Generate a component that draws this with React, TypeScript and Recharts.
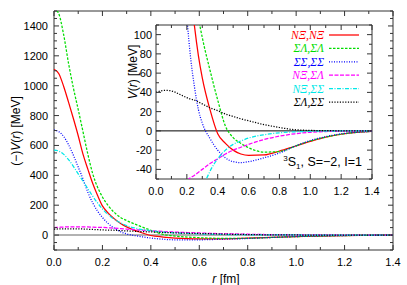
import React from 'react';
import { LineChart, Line, XAxis, YAxis, ReferenceLine, ReferenceArea } from 'recharts';

// r grid [fm]
const R = [0, 0.02, 0.04, 0.06, 0.08, 0.1, 0.12, 0.14, 0.16, 0.18, 0.2, 0.225, 0.25, 0.275, 0.3, 0.35, 0.4, 0.45, 0.5, 0.55, 0.6, 0.7, 0.8, 0.9, 1.0, 1.1, 1.2, 1.3, 1.4];

// potentials [MeV] as plotted in the main panel ((-)V for the off-diagonal NΞ,ΣΛ and NΞ,ΣΣ)
const nxNx = [1110, 1080, 995, 890, 780, 665, 540, 440, 345, 265, 195, 145, 108, 78, 55, 22, -3, -13, -20, -24, -25.5, -25, -21, -16, -11, -6.5, -3.5, -1.5, -0.5];
const slSl = [1520, 1480, 1340, 1150, 985, 840, 690, 540, 410, 320, 255, 195, 150, 118, 97, 63, 32, 5, -7, -13, -17.5, -22, -21.5, -16, -10.5, -6.5, -3.5, -1.5, -0.5];
const ssSs = [703, 692, 660, 605, 535, 455, 375, 285, 215, 160, 118, 75, 45, 22, 8, -8, -20, -28, -32, -33, -32, -28, -23, -16, -10, -6, -3, -1.5, -0.5];
const nxSl = [50, 52, 54, 55, 55.5, 55.5, 55, 54, 53, 52, 51, 48.5, 46, 43, 40, 34, 29, 24, 20, 17, 14, 9, 5.5, 3, 1.5, 0.7, 0.3, 0.1, 0];
const nxSs = [569, 562, 540, 505, 460, 410, 360, 310, 260, 215, 175, 135, 105, 82, 63, 42, 29, 20, 14, 10.5, 7.5, 4, 2, 1, 0.5, 0.2, 0.1, 0, 0];
const slSs = [40, 41, 41.8, 42, 42, 41.5, 40.5, 39, 37.5, 36, 34.5, 33, 32, 30, 28, 24, 21, 17.5, 15, 12.5, 10.5, 6.5, 3.5, 1.2, 0.5, 0.2, 0.1, 0, 0];

const mainXTicks = [0, 0.1, 0.2, 0.3, 0.4, 0.5, 0.6, 0.7, 0.8, 0.9, 1.0, 1.1, 1.2, 1.3, 1.4];
const mainYTicks = [-100, -50, 0, 50, 100, 150, 200, 250, 300, 350, 400, 450, 500, 550, 600, 650, 700, 750, 800, 850, 900, 950, 1000, 1050, 1100, 1150, 1200, 1250, 1300, 1350, 1400, 1450, 1500];
const insetYTicks = [-50, -40, -30, -20, -10, 0, 10, 20, 30, 40, 50, 60, 70, 80, 90, 100, 110];

const series = [
  { key: 'nxNx', name: 'NΞ,NΞ', color: '#ff0000', dash: undefined as string | undefined },
  { key: 'slSl', name: 'ΣΛ,ΣΛ', color: '#00dd00', dash: '2.5 1.5' },
  { key: 'ssSs', name: 'ΣΣ,ΣΣ', color: '#0000ff', dash: '1 1.5' },
  { key: 'nxSl', name: 'NΞ,ΣΛ', color: '#ff00ff', dash: '4 1.5' },
  { key: 'nxSs', name: 'NΞ,ΣΣ', color: '#00e8e8', dash: '4 1.5 1 1.5' },
  { key: 'slSs', name: 'ΣΛ,ΣΣ', color: '#000000', dash: '1.2 1.5' },
];

const mainData = R.map((r, i) => ({
  r, nxNx: nxNx[i], slSl: slSl[i], ssSs: ssSs[i], nxSl: nxSl[i], nxSs: nxSs[i], slSs: slSs[i],
}));
// the inset shows V(r) itself, so the two flipped curves get their sign back
const insetData = R.map((r, i) => ({
  r, nxNx: nxNx[i], slSl: slSl[i], ssSs: ssSs[i], nxSl: -nxSl[i], nxSs: -nxSs[i], slSs: slSs[i],
}));

const FRAME = '#333';
const FONT = '"Liberation Sans", Arial, sans-serif';
const SERIF = '"Liberation Serif", "Times New Roman", serif';

// main plot box
const M = { left: 54, right: 393, top: 11, bottom: 250 };
// inset plot box (local to the inset chart)
const I = { left: 36, right: 252, top: 5, bottom: 159 };

const isMajor = (v: number, step: number) => Math.abs(v / step - Math.round(v / step)) < 1e-6;

const MainXTick = (p: any) => {
  const v = p.payload.value;
  const major = isMajor(v, 0.2);
  const len = major ? 5 : 3;
  return (
    <g>
      <line x1={p.x} y1={M.bottom} x2={p.x} y2={M.bottom - len} stroke={FRAME} />
      <line x1={p.x} y1={M.top} x2={p.x} y2={M.top + len} stroke={FRAME} />
      {major && <text x={p.x} y={M.bottom + 16} textAnchor="middle" fontSize={11} fontFamily={FONT} fill="#000">{v.toFixed(1)}</text>}
    </g>
  );
};

const MainYTick = (p: any) => {
  const v = p.payload.value;
  const major = isMajor(v, 200);
  const len = major ? 5 : 3;
  return (
    <g>
      <line x1={M.left} y1={p.y} x2={M.left + len} y2={p.y} stroke={FRAME} />
      <line x1={M.right} y1={p.y} x2={M.right - len} y2={p.y} stroke={FRAME} />
      {major && <text x={M.left - 6} y={p.y} dy="0.36em" textAnchor="end" fontSize={11} fontFamily={FONT} fill="#000">{v}</text>}
    </g>
  );
};

const InsetXTick = (p: any) => {
  const v = p.payload.value;
  const major = isMajor(v, 0.2);
  const len = major ? 5 : 3;
  return (
    <g>
      <line x1={p.x} y1={I.bottom} x2={p.x} y2={I.bottom - len} stroke={FRAME} />
      <line x1={p.x} y1={I.top} x2={p.x} y2={I.top + len} stroke={FRAME} />
      {major && <text x={p.x} y={I.bottom + 16} textAnchor="middle" fontSize={11} fontFamily={FONT} fill="#000">{v.toFixed(1)}</text>}
    </g>
  );
};

const InsetYTick = (p: any) => {
  const v = p.payload.value;
  const major = isMajor(v, 20);
  const len = major ? 5 : 3;
  return (
    <g>
      <line x1={I.left} y1={p.y} x2={I.left + len} y2={p.y} stroke={FRAME} />
      <line x1={I.right} y1={p.y} x2={I.right - len} y2={p.y} stroke={FRAME} />
      {major && <text x={I.left - 4} y={p.y} dy="0.36em" textAnchor="end" fontSize={11} fontFamily={FONT} fill="#000">{v}</text>}
    </g>
  );
};

const renderLines = () =>
  series.map((s) => (
    <Line
      key={s.key}
      dataKey={s.key}
      name={s.name}
      type="monotone"
      stroke={s.color}
      strokeWidth={1.25}
      strokeDasharray={s.dash}
      dot={false}
      activeDot={false}
      isAnimationActive={false}
    />
  ));

export default function App() {
  return (
    <div style={{ position: 'absolute', left: 0, top: 0, width: 407, height: 285, background: '#fff' }}>
      <LineChart width={407} height={285} data={mainData} margin={{ top: M.top, right: 407 - M.right, bottom: 0, left: 0 }}>
        <XAxis dataKey="r" type="number" domain={[0, 1.4]} ticks={mainXTicks} interval={0} height={285 - M.bottom} axisLine={false} tickLine={false} tick={MainXTick} />
        <YAxis type="number" domain={[-100, 1500]} ticks={mainYTicks} interval={0} width={M.left} allowDataOverflow axisLine={false} tickLine={false} tick={MainYTick} />
        <ReferenceLine y={0} stroke="#999" strokeWidth={1.5} />
        <ReferenceArea x1={0} x2={1.4} y1={-100} y2={1500} fill="none" stroke={FRAME} strokeWidth={1} />
        {renderLines()}
      </LineChart>

      <div style={{ position: 'absolute', left: 120, top: 20, width: 262, height: 185 }}>
        <LineChart width={262} height={185} data={insetData} margin={{ top: I.top, right: 262 - I.right, bottom: 0, left: 0 }}>
          <XAxis dataKey="r" type="number" domain={[0, 1.4]} ticks={mainXTicks} interval={0} height={185 - I.bottom} axisLine={false} tickLine={false} tick={InsetXTick} allowDataOverflow />
          <YAxis type="number" domain={[-50, 110]} ticks={insetYTicks} interval={0} width={I.left} allowDataOverflow axisLine={false} tickLine={false} tick={InsetYTick} />
          <ReferenceLine y={0} stroke="#000" strokeWidth={1} />
          <ReferenceArea x1={0} x2={1.4} y1={-50} y2={110} fill="none" stroke={FRAME} strokeWidth={1} />
          {renderLines()}
        </LineChart>
      </div>

      <svg width={407} height={285} style={{ position: 'absolute', left: 0, top: 0, pointerEvents: 'none' }}>
        {/* main axis titles */}
        <text transform="translate(20,131) rotate(-90)" textAnchor="middle" fontSize={12} fontFamily={FONT} fill="#000">
          (−)<tspan fontStyle="italic">V</tspan>(<tspan fontStyle="italic">r</tspan>) [MeV]
        </text>
        <text x={226} y={283} textAnchor="middle" fontSize={12} fontFamily={FONT} fill="#000">
          <tspan fontStyle="italic">r</tspan> [fm]
        </text>
        {/* inset axis title */}
        <text transform="translate(137,72) rotate(-90)" textAnchor="middle" fontSize={12} fontFamily={FONT} fill="#000">
          <tspan fontStyle="italic">V</tspan>(<tspan fontStyle="italic">r</tspan>) [MeV]
        </text>
        {/* legend */}
        {series.map((s, i) => {
          const cy = 35 + i * 13.4;
          return (
            <g key={s.key}>
              <text x={324} y={cy} dy="0.34em" textAnchor="end" fontSize={11.5} fontStyle="italic" fontFamily={SERIF} fill={s.color}>{s.name}</text>
              <line x1={329} y1={cy} x2={359} y2={cy} stroke={s.color} strokeWidth={1.25} strokeDasharray={s.dash} />
            </g>
          );
        })}
        {/* channel label */}
        <text x={362} y={166} textAnchor="end" fontSize={12.5} fontFamily={FONT} fill="#000">
          <tspan fontSize={8} dy={-5}>3</tspan><tspan dy={5}>S</tspan><tspan fontSize={8} dy={3}>1</tspan><tspan dy={-3}>, S=−2, I=1</tspan>
        </text>
      </svg>
    </div>
  );
}
